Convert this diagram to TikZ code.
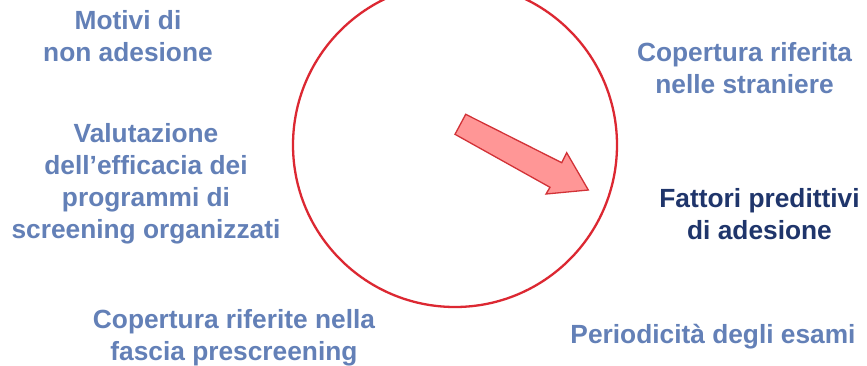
\documentclass[tikz,border=0pt]{standalone}
\usepackage{fontspec}
\setmainfont{Liberation Sans}
\begin{document}
\begin{tikzpicture}[x=1bp,y=-1bp,
  lbl/.style={font=\fontsize{26.3bp}{31.8bp}\selectfont\bfseries, text=txtblue, align=center, inner sep=0pt, anchor=base},
  dark/.style={text=txtdark}]
\definecolor{txtblue}{RGB}{99,128,183}
\definecolor{txtdark}{RGB}{31,53,107}
\definecolor{ringred}{RGB}{220,40,50}
\definecolor{arrowfill}{RGB}{255,150,150}
\definecolor{arrowline}{RGB}{210,50,55}
\useasboundingbox[fill=white] (0,0) rectangle (867,365);
\draw[ringred, line width=2.3bp] (455,145) circle[radius=162];
\draw[arrowline, fill=arrowfill, line width=1.3bp, line join=miter]
  (465.7,114.3) -- (561.7,162.7) -- (566.7,152.7) -- (588.3,190)
  -- (546,194) -- (550,187.3) -- (455,134.3) -- cycle;
\node[lbl] (motivi) at (128,61) {Motivi di\\non adesione};
\node[lbl] (valutazione) at (146,238) {Valutazione\\dell’efficacia dei\\programmi di\\screening organizzati};
\node[lbl] (stranieri) at (744.5,93) {Copertura riferita\\nelle straniere};
\node[lbl,dark] (fattori) at (759.5,239.5) {Fattori predittivi\\di adesione};
\node[lbl] (prescreening) at (234,360) {Copertura riferite nella\\fascia prescreening};
\node[lbl] (periodicita) at (713,343) {Periodicità degli esami};
\end{tikzpicture}
\end{document}
